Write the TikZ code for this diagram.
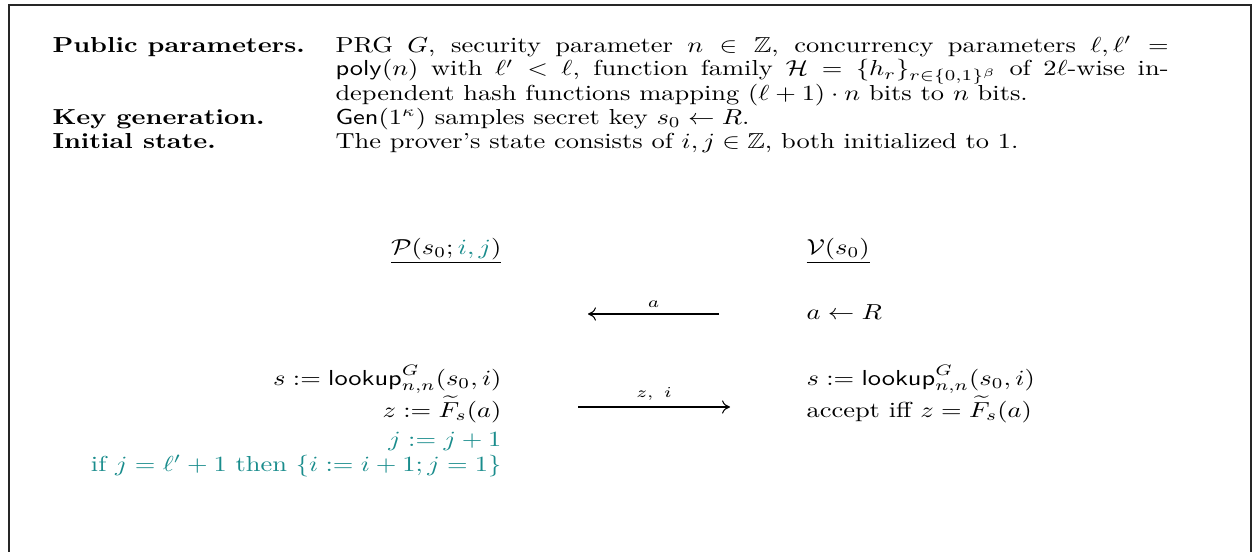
\documentclass[tikz,border=0pt]{standalone}
\usepackage{amsmath,amssymb}
\usetikzlibrary{arrows.meta}
\definecolor{tl}{RGB}{25,140,140}
\tikzset{
  txt/.style={inner sep=0pt, yscale=0.82},
  lbl/.style={txt, anchor=base west},
  rlbl/.style={txt, anchor=base east},
  msg/.style={line width=0.4pt, -{To[length=3pt,width=5pt]}},
  msglabel/.style={font=\scriptsize, yscale=0.82, above, inner sep=3pt},
  frame/.style={line width=0.75pt, draw=black!85}
}
\begin{document}
\begin{tikzpicture}[x=0.378pt,y=-0.378pt]
\useasboundingbox (0,0) rectangle (1257,552);
% frame (open at bottom)
\draw[frame] (9,552) -- (9,5) -- (1251,5) -- (1251,552);
% header block
\node[lbl] (pp) at (52,52) {\textbf{Public parameters.}};
\node[lbl] (kg) at (52,124) {\textbf{Key generation.}};
\node[lbl] (is) at (52,148) {\textbf{Initial state.}};
\node[lbl] (t1) at (335,52) {\hbox to 314.9pt{PRG $G$, security parameter $n\in\mathbb{Z}$, concurrency parameters $\ell,\ell' =$}};
\node[lbl] (t2) at (335,76) {\hbox to 314.9pt{$\mathsf{poly}(n)$ with $\ell' < \ell$, function family $\mathcal{H} = \{h_r\}_{r\in\{0,1\}^\beta}$ of $2\ell$-wise in-}};
\node[lbl] (t3) at (335,100) {dependent hash functions mapping $(\ell+1)\cdot n$ bits to $n$ bits.};
\node[lbl] (t4) at (335,124) {$\mathsf{Gen}(1^\kappa)$ samples secret key $s_0 \leftarrow R$.};
\node[lbl] (t5) at (335,148) {The prover's state consists of $i,j\in\mathbb{Z}$, both initialized to 1.};
% protocol
\node[rlbl] (P) at (502,254) {$\underline{\mathcal{P}(s_0;\textcolor{tl}{i,j})}$};
\node[lbl] (V) at (806,254) {$\underline{\mathcal{V}(s_0)}$};
\node[lbl] (aR) at (806,319) {$a \leftarrow R$};
\coordinate (m1r) at (719,314);
\coordinate (m1l) at (588,314);
\draw[msg] (m1r) -- node[msglabel] {$a$} (m1l);
\node[rlbl] (l1) at (502,385) {$s := \mathsf{lookup}^G_{n,n}(s_0,i)$};
\node[rlbl] (l2) at (502,417) {$z := \widetilde{F}_s(a)$};
\node[rlbl, text=tl] (l3) at (502,446) {$j := j+1$};
\node[rlbl, text=tl] (l4) at (502,471) {if $j = \ell'+1$ then $\{i := i+1; j = 1\}$};
\node[lbl] (r1) at (806,385) {$s := \mathsf{lookup}^G_{n,n}(s_0,i)$};
\node[lbl] (r2) at (806,417) {accept iff $z = \widetilde{F}_s(a)$};
\coordinate (m2l) at (578,407);
\coordinate (m2r) at (730,407);
\draw[msg] (m2l) -- node[msglabel] {$z,\ i$} (m2r);
\end{tikzpicture}
\end{document}
